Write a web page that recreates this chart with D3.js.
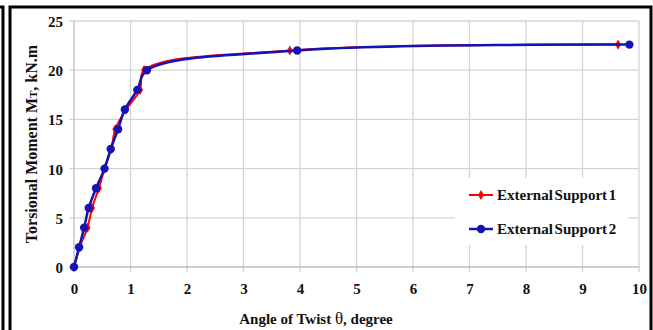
<!DOCTYPE html>
<html>
<head>
<meta charset="utf-8">
<script src="https://cdn.jsdelivr.net/npm/d3@7"></script>
<style>
  body { margin: 0; background: #fff; }
  svg text { font-family: "Liberation Serif", "Times New Roman", serif; font-weight: bold; fill: #111; }
</style>
</head>
<body>
<svg id="chart" width="653" height="330"></svg>
<script>
// torsional moment levels (kN.m), shared by both series
const moment = [0, 2, 4, 6, 8, 10, 12, 14, 16, 18, 20, 22, 22.6];
// angle of twist (degree)
const twist1 = [0, 0.1, 0.24, 0.32, 0.44, 0.54, 0.66, 0.73, 0.92, 1.17, 1.24, 3.82, 9.63];
const twist2 = [0, 0.09, 0.18, 0.26, 0.39, 0.54, 0.65, 0.78, 0.90, 1.12, 1.29, 3.95, 9.83];
const seriesNames = ['External Support 1', 'External Support 2'];
const xTicks = [0, 1, 2, 3, 4, 5, 6, 7, 8, 9, 10];
const yTicks = [0, 5, 10, 15, 20, 25];

const svg = d3.select('#chart');
const margin = { top: 21, right: 14, bottom: 63, left: 74 };
const width = 653 - margin.left - margin.right;
const height = 330 - margin.top - margin.bottom;

// outer frame lines
svg.append('path')
  .attr('d', 'M10,330 V7 H651 V330')
  .attr('fill', 'none').attr('stroke', '#000').attr('stroke-width', 3);
svg.append('path')
  .attr('d', 'M0,7 H3 V330')
  .attr('fill', 'none').attr('stroke', '#000').attr('stroke-width', 3);

const x = d3.scaleLinear().domain([0, 10]).range([0, width]);
const y = d3.scaleLinear().domain([0, 25]).range([height, 0]);

const g = svg.append('g')
  .attr('transform', 'translate(' + margin.left + ',' + margin.top + ')');

// grid
g.append('g')
  .selectAll('line.vx')
  .data(xTicks.slice(1))
  .enter().append('line')
  .attr('x1', d => x(d)).attr('x2', d => x(d))
  .attr('y1', 0).attr('y2', height + 5)
  .attr('stroke', '#d4d4d4').attr('stroke-width', 1.3);
g.append('g')
  .selectAll('line.hy')
  .data(yTicks.slice(1))
  .enter().append('line')
  .attr('x1', -5).attr('x2', width)
  .attr('y1', d => y(d)).attr('y2', d => y(d))
  .attr('stroke', '#d4d4d4').attr('stroke-width', 1.3);

// axes lines
g.append('line').attr('x1', 0).attr('x2', 0).attr('y1', 0).attr('y2', height + 5)
  .attr('stroke', '#bdbdbd').attr('stroke-width', 1.3);
g.append('line').attr('x1', -5).attr('x2', width).attr('y1', height).attr('y2', height)
  .attr('stroke', '#bdbdbd').attr('stroke-width', 1.3);

const xAxis = d3.axisBottom(x).tickValues(xTicks).tickSize(0).tickPadding(16);
const yAxis = d3.axisLeft(y).tickValues(yTicks).tickSize(0).tickPadding(11);

const gX = g.append('g').attr('transform', 'translate(0,' + height + ')').call(xAxis);
const gY = g.append('g').call(yAxis);
[gX, gY].forEach(a => {
  a.select('.domain').remove();
  a.selectAll('text')
    .style('font-family', '"Liberation Serif", serif')
    .style('font-weight', 'bold')
    .style('font-size', '15px')
    .attr('fill', '#111');
});
gY.selectAll('text').attr('dy', '0.36em');

// axis titles
svg.append('text')
  .attr('x', 316).attr('y', 324)
  .attr('text-anchor', 'middle')
  .style('font-size', '15px')
  .text('Angle of Twist ')
  .append('tspan').style('font-weight', 'normal').style('font-size', '17px').text('θ')
  .select(function () { return this.parentNode; })
  .append('tspan').text(', degree');

const yTitle = svg.append('text')
  .attr('transform', 'translate(37,144) rotate(-90)')
  .attr('text-anchor', 'middle')
  .style('font-size', '16px');
yTitle.append('tspan').text('Torsional Moment M');
yTitle.append('tspan').style('font-size', '11px').text('T');
yTitle.append('tspan').text(', kN.m');

// series
const series = [
  { name: seriesNames[0], xs: twist1, color: '#ff0000', width: 2 },
  { name: seriesNames[1], xs: twist2, color: '#1414b4', width: 2.5 }
];

const line = d3.line()
  .x(d => x(d[0]))
  .y(d => y(d[1]))
  .curve(d3.curveCatmullRom.alpha(0.5));

const diamond = d3.symbol().type(d3.symbolDiamond).size(30);

series.forEach((s, i) => {
  const pts = s.xs.map((v, k) => [v, moment[k]]);
  g.append('path')
    .datum(pts)
    .attr('d', line)
    .attr('fill', 'none')
    .attr('stroke', s.color)
    .attr('stroke-width', s.width);
  if (i === 0) {
    g.selectAll('.m1').data(pts).enter().append('path')
      .attr('d', diamond)
      .attr('transform', d => 'translate(' + x(d[0]) + ',' + y(d[1]) + ')')
      .attr('fill', s.color);
  } else {
    g.selectAll('.m2').data(pts).enter().append('circle')
      .attr('cx', d => x(d[0])).attr('cy', d => y(d[1]))
      .attr('r', 4.2)
      .attr('fill', s.color);
  }
});

// legend
const legend = svg.append('g');
legend.append('rect')
  .attr('x', 455).attr('y', 178).attr('width', 173).attr('height', 67)
  .attr('fill', '#fff');
series.forEach((s, i) => {
  const ly = 195 + i * 34;
  legend.append('line')
    .attr('x1', 469).attr('x2', 493).attr('y1', ly).attr('y2', ly)
    .attr('stroke', s.color).attr('stroke-width', s.width);
  if (i === 0) {
    legend.append('path').attr('d', diamond)
      .attr('transform', 'translate(481,' + ly + ')').attr('fill', s.color);
  } else {
    legend.append('circle').attr('cx', 481).attr('cy', ly).attr('r', 4.2).attr('fill', s.color);
  }
  legend.append('text')
    .attr('x', 497).attr('y', ly + 5)
    .style('font-size', '15px')
    .style('word-spacing', '-2px')
    .text(s.name);
});
</script>
</body>
</html>
